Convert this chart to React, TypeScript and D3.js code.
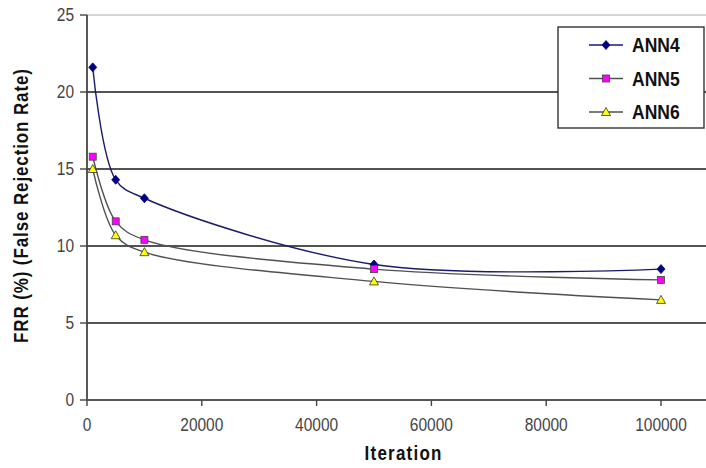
import React from "react";
import * as d3 from "d3";

const iterations = [1000, 5000, 10000, 50000, 100000];
const ann4 = [21.6, 14.3, 13.1, 8.8, 8.5];
const ann5 = [15.8, 11.6, 10.4, 8.5, 7.8];
const ann6 = [15.0, 10.7, 9.6, 7.7, 6.5];
const seriesNames = ["ANN4", "ANN5", "ANN6"];
const xTicks = [0, 20000, 40000, 60000, 80000, 100000];
const yTicks = [0, 5, 10, 15, 20, 25];

const W = 706, H = 468;
const x = d3.scaleLinear().domain([0, 100000]).range([87, 661]);
const y = d3.scaleLinear().domain([0, 25]).range([400, 15]);

const styles = [
  { line: "#1a1a6e", fill: "#000080", stroke: "#000080", shape: "diamond" },
  { line: "#505050", fill: "#ff00ff", stroke: "#444", shape: "square" },
  { line: "#505050", fill: "#ffff00", stroke: "#333", shape: "triangle" },
];

function Marker({ cx, cy, shape, fill, stroke }: any) {
  if (shape === "diamond")
    return <path d={`M${cx},${cy - 4.5}L${cx + 4},${cy}L${cx},${cy + 4.5}L${cx - 4},${cy}Z`} fill={fill} stroke={stroke} strokeWidth={0.8} />;
  if (shape === "square")
    return <rect x={cx - 3.5} y={cy - 3.5} width={7} height={7} fill={fill} stroke={stroke} strokeWidth={0.8} />;
  return <path d={`M${cx},${cy - 4.5}L${cx + 4.5},${cy + 3.5}L${cx - 4.5},${cy + 3.5}Z`} fill={fill} stroke={stroke} strokeWidth={0.8} />;
}

const SY = 1.15;

function T({ x: tx, y: ty, children, rotate = 0, ...rest }: any) {
  return (
    <text transform={`translate(${tx},${ty}) rotate(${rotate}) scale(1,${SY})`} {...rest}>
      {children}
    </text>
  );
}

export default function App() {
  const data = [ann4, ann5, ann6];
  const line = d3
    .line<number>()
    .x((_, i) => x(iterations[i]))
    .y((d) => y(d))
    .curve(d3.curveCatmullRom.alpha(0.5));
  const font = "Arial, 'Liberation Sans', sans-serif";
  return (
    <svg width={W} height={H} style={{ position: "absolute", left: 0, top: 0, background: "#fff" }} fontFamily={font}>
      {yTicks.map((t) => (
        <g key={t}>
          {t > 0 && (
            <line x1={87} x2={706} y1={y(t)} y2={y(t)} stroke={t === 25 ? "#c8c8c8" : "#1a1a1a"} strokeWidth={1.6} />
          )}
          <line x1={80} x2={87} y1={y(t)} y2={y(t)} stroke="#444" strokeWidth={1.4} />
          <T x={74} y={y(t)} dy="0.36em" textAnchor="end" fontSize={15.5} fill="#444">{t}</T>
        </g>
      ))}
      <line x1={87} x2={87} y1={y(25)} y2={y(0)} stroke="#444" strokeWidth={1.8} />
      <line x1={87} x2={706} y1={y(0)} y2={y(0)} stroke="#555" strokeWidth={1.8} />
      {xTicks.map((t) => (
        <g key={t}>
          <line x1={x(t)} x2={x(t)} y1={400} y2={406} stroke="#444" strokeWidth={1.4} />
          <T x={x(t)} y={425} dy="0.36em" textAnchor="middle" fontSize={15.5} fill="#444">{t}</T>
        </g>
      ))}
      {data.map((s, i) => (
        <path key={i} d={line(s) || ""} fill="none" stroke={styles[i].line} strokeWidth={1.4} />
      ))}
      {data.map((s, i) =>
        s.map((v, j) => (
          <Marker key={`${i}-${j}`} cx={x(iterations[j])} cy={y(v)} shape={styles[i].shape} fill={styles[i].fill} stroke={styles[i].stroke} />
        ))
      )}
      <rect x={558} y={27} width={146} height={101} fill="#fff" stroke="#333" strokeWidth={1.4} />
      {seriesNames.map((n, i) => {
        const ly = 45 + i * 33.5;
        return (
          <g key={n}>
            <line x1={589} x2={623} y1={ly} y2={ly} stroke={styles[i].line} strokeWidth={1.4} />
            <Marker cx={606} cy={ly} shape={styles[i].shape} fill={styles[i].fill} stroke={styles[i].stroke} />
            <T x={632} y={ly} dy="0.36em" fontSize={17.5} fontWeight="bold" fill="#111">{n}</T>
          </g>
        );
      })}
      <T x={403} y={460} textAnchor="middle" fontSize={17} fontWeight="bold" fill="#111" textLength={77} lengthAdjust="spacing">Iteration</T>
      <T x={21} y={206} rotate={-90} dy="0.36em" textAnchor="middle" fontSize={17} fontWeight="bold" fill="#111" textLength={274} lengthAdjust="spacing">FRR (%) (False Rejection Rate)</T>
    </svg>
  );
}
